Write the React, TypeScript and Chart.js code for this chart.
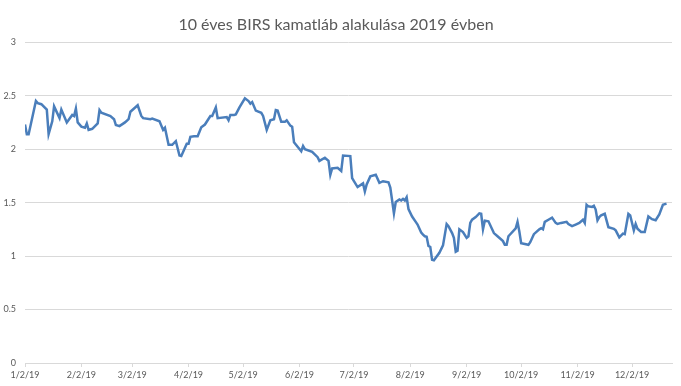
import React, { useEffect, useRef } from "react";
import { Chart, registerables } from "chart.js";

Chart.register(...registerables);

const TITLE = "10 éves BIRS kamatláb alakulása 2019 évben";

// days since 2019-01-02
const dayOffsets = [
  0, 1, 2, 6, 7, 9, 12, 13, 15, 16, 19, 20, 23, 26, 27, 28, 29, 31, 33, 34, 35, 37, 40, 41, 42, 47, 49, 50, 52, 55,
  57, 58, 60, 62, 64, 65, 69, 70, 74, 76, 77, 79, 81, 83, 85, 86, 89, 90, 91, 93, 95, 97, 99, 102, 103, 105, 106,
  111, 112, 113, 115, 116, 118, 121, 123, 124, 125, 127, 130, 131, 133, 135, 137, 138, 139, 141, 143, 144, 146, 147,
  148, 152, 153, 154, 158, 161, 162, 165, 167, 168, 169, 172, 174, 175, 179, 180, 181, 183, 186, 187, 188, 190, 193,
  195, 197, 200, 201, 203, 204, 206, 207, 208, 209, 210, 211, 213, 215, 216, 218, 219, 220, 221, 222, 223, 224, 225,
  228, 230, 232, 233, 235, 236, 237, 238, 239, 241, 243, 244, 245, 246, 248, 250, 251, 252, 253, 255, 258, 260, 263,
  264, 265, 266, 270, 271, 272, 273, 277, 278, 280, 283, 284, 285, 286, 288, 290, 292, 293, 295, 298, 299, 301, 303,
  305, 307, 308, 309, 310, 312, 313, 314, 315, 316, 317, 319, 321, 324, 325, 327, 329, 330, 332, 333, 335, 336, 337,
  339, 341, 343, 345, 347, 349, 351, 353,
];

const rates = [
  2.23, 2.14, 2.14, 2.45, 2.43, 2.42, 2.37, 2.14, 2.26, 2.4, 2.29, 2.37, 2.25, 2.32, 2.31, 2.38, 2.25, 2.21, 2.2, 2.24,
  2.18, 2.19, 2.24, 2.365, 2.34, 2.31, 2.28, 2.225, 2.215, 2.25,
  2.28, 2.35, 2.38, 2.41, 2.31, 2.29, 2.28, 2.285, 2.26, 2.18, 2.2, 2.04, 2.04, 2.075, 1.94, 1.935, 2.05, 2.05, 2.115,
  2.12, 2.12, 2.205, 2.23, 2.31, 2.31, 2.39, 2.29,
  2.3, 2.27, 2.32, 2.32, 2.325, 2.39, 2.475, 2.45, 2.425, 2.44, 2.36, 2.34, 2.31, 2.18, 2.27, 2.28, 2.365, 2.36, 2.255,
  2.255, 2.27, 2.22, 2.21,
  2.065, 1.98, 2.03, 2.0, 1.975, 1.925, 1.89, 1.92, 1.89, 1.76, 1.82, 1.825, 1.795, 1.94, 1.935, 1.73, 1.7, 1.645,
  1.68, 1.605, 1.67, 1.745, 1.76,
  1.685, 1.7, 1.69, 1.64, 1.4, 1.505, 1.53, 1.52, 1.535, 1.52, 1.55, 1.44, 1.37, 1.32, 1.295, 1.22, 1.2, 1.185, 1.18,
  1.095, 1.085, 0.965, 0.96,
  1.03, 1.1, 1.3, 1.28, 1.215, 1.17, 1.04, 1.05, 1.25, 1.225, 1.17, 1.185, 1.31, 1.34, 1.365, 1.4, 1.395, 1.25, 1.33,
  1.325, 1.215, 1.185, 1.14,
  1.105, 1.105, 1.185, 1.26, 1.32, 1.23, 1.12, 1.105, 1.13, 1.205, 1.25, 1.26, 1.25, 1.32, 1.34, 1.36, 1.31, 1.3, 1.31,
  1.32, 1.3, 1.28, 1.295,
  1.31, 1.34, 1.31, 1.48, 1.465, 1.46, 1.47, 1.435, 1.335, 1.365, 1.38, 1.395, 1.27, 1.255, 1.24, 1.175, 1.21, 1.205,
  1.395, 1.38, 1.24, 1.3, 1.255,
  1.225, 1.225, 1.37, 1.345, 1.335, 1.39, 1.48, 1.49,
];

const tickDays = [0, 31, 59, 90, 120, 151, 181, 212, 243, 273, 304, 334];
const tickLabels = [
  "1/2/19", "2/2/19", "3/2/19", "4/2/19", "5/2/19", "6/2/19",
  "7/2/19", "8/2/19", "9/2/19", "10/2/19", "11/2/19", "12/2/19",
];

const FONT = "Lato, 'Open Sans', sans-serif";

export default function App() {
  const ref = useRef<HTMLCanvasElement | null>(null);

  useEffect(() => {
    document.body.style.margin = "0";
    const canvas = ref.current;
    if (!canvas) return;
    const points = dayOffsets.map((d, i) => ({ x: d, y: rates[i] }));
    const chart = new Chart(canvas, {
      type: "line",
      data: {
        datasets: [
          {
            data: points,
            borderColor: "#4a7ebb",
            borderWidth: 2.5,
            pointRadius: 0,
            tension: 0,
            fill: false,
          },
        ],
      },
      options: {
        animation: false,
        responsive: false,
        maintainAspectRatio: false,
        layout: { padding: { top: 10, right: 9, bottom: 0, left: 0 } },
        plugins: {
          legend: { display: false },
          tooltip: { enabled: false },
          title: {
            display: true,
            text: TITLE,
            color: "#595959",
            font: { family: FONT, size: 16, weight: "normal" },
            padding: { top: 5, bottom: 8 },
          },
        },
        scales: {
          x: {
            type: "linear",
            min: 0,
            max: 356,
            afterBuildTicks: (scale: any) => {
              scale.ticks = tickDays.map((v) => ({ value: v }));
            },
            afterFit: (scale: any) => {
              scale.height = 23;
            },
            grid: {
              drawOnChartArea: false,
              drawTicks: true,
              tickLength: 4,
              color: "#d9d9d9",
            },
            border: { display: true, color: "#d9d9d9" },
            ticks: {
              autoSkip: false,
              maxRotation: 0,
              minRotation: 0,
              padding: 3,
              color: "#595959",
              font: { family: FONT, size: 9 },
              callback: (value: any) => {
                const i = tickDays.indexOf(Number(value));
                return i >= 0 ? tickLabels[i] : "";
              },
            },
          },
          y: {
            min: 0,
            max: 3,
            afterFit: (scale: any) => {
              scale.width = 25;
            },
            grid: {
              color: "#d9d9d9",
              drawTicks: false,
            },
            border: { display: false },
            ticks: {
              stepSize: 0.5,
              padding: 9,
              color: "#595959",
              font: { family: FONT, size: 9 },
              callback: (value: any) => String(Number(value)),
            },
          },
        },
      },
    });
    return () => chart.destroy();
  }, []);

  return (
    <div style={{ width: 681, height: 386 }}>
      <canvas ref={ref} width={681} height={386} style={{ width: 681, height: 386 }} />
    </div>
  );
}
